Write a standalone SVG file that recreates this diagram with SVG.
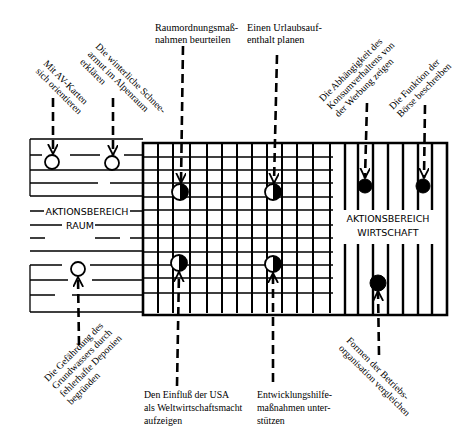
<svg xmlns="http://www.w3.org/2000/svg" width="465" height="429" viewBox="0 0 465 429">
<defs>
<style>
.bg{fill:#fff}
.hl{stroke:#000;stroke-width:1.3;fill:none}
.vl{stroke:#000;stroke-width:2;fill:none}
.vr{stroke:#000;stroke-width:2.4;fill:none}
.fr{stroke:#000;stroke-width:2.6;fill:none}
.dash{stroke:#000;stroke-width:2.6;stroke-dasharray:9 5;fill:none}
.lbl{font-family:"Liberation Serif","Times New Roman",serif;font-size:9.8px;fill:#000}
.top{font-size:10.2px}
.area{font-family:"DejaVu Sans","Liberation Sans",sans-serif;font-size:9.5px;fill:#000;text-anchor:middle}
.open{fill:#fff;stroke:#000;stroke-width:1.8}
.half{fill:#000}
.full{fill:#000;stroke:#000;stroke-width:1}
</style>
<marker id="ah" markerUnits="userSpaceOnUse" markerWidth="14" markerHeight="14" refX="10" refY="5" orient="auto">
<path d="M0,0 L10,5 L0,10" fill="none" stroke="#000" stroke-width="1.8"/>
</marker>
</defs>
<rect class="bg" x="0" y="0" width="465" height="429"/>

<g id="region-raum">
<path class="hl" d="M30,139 H143 M30,139 V196 M30,265 V312
M30,155 H42 M70,155 H100 M124,155 H143
M30,170 H143
M30,183 H98 M110,183 H143
M30,196 H143
M30,211 H44 M130,211 H143
M30,225 H62 M95,225 H143
M30,238 H45 M95,238 H120 M130,238 H143
M30,251 H143
M30,265 H62 M90,265 H143
M30,280 H68 M92,280 H143
M30,295 H55 M72,295 H143
M30,312 H143"/>
<text class="area" x="87" y="215">AKTIONSBEREICH</text>
<text class="area" x="80" y="229">RAUM</text>
</g>

<g id="region-grid">
<path class="hl" d="M143,157 H333 M143,170 H333 M143,183 H333 M143,197 H333 M143,210 H333 M143,225 H333 M143,238 H333 M143,252 H333 M143,265 H333 M143,278 H333 M143,293 H333"/>
<path class="vl" d="M158,143 V313 M173,143 V313 M190,143 V313 M207,143 V313 M222,143 V313 M237,143 V313 M252,143 V313 M267,143 V313 M282,143 V313 M297,143 V313 M313,143 V313 M330,143 V313"/>
</g>

<g id="region-wirtschaft">
<path class="vr" d="M345,143 V210 M345,244 V314 M358,143 V210 M358,244 V314 M373,143 V210 M373,244 V314 M388,143 V210 M388,244 V314 M403,143 V210 M403,244 V314 M418,143 V210 M418,244 V314 M432,143 V210 M432,244 V314"/>
<text class="area" x="388" y="222">AKTIONSBEREICH</text>
<text class="area" x="388" y="236">WIRTSCHAFT</text>
</g>

<g id="frame">
<path class="fr" d="M143,143 H447 V315 H143 Z"/>
</g>

<g id="connectors">
<path class="dash" d="M53,98 V154" marker-end="url(#ah)"/>
<path class="dash" d="M113,98 V155" marker-end="url(#ah)"/>
<path class="dash" d="M183,46 L181,183" marker-end="url(#ah)"/>
<path class="dash" d="M277,55 L274,183" marker-end="url(#ah)"/>
<path class="dash" d="M367,103 L365,178" marker-end="url(#ah)"/>
<path class="dash" d="M425,105 L424,178" marker-end="url(#ah)"/>
<path class="dash" d="M79,345 L78,277" marker-end="url(#ah)"/>
<path class="dash" d="M177,386 L179,272" marker-end="url(#ah)"/>
<path class="dash" d="M273,382 V273" marker-end="url(#ah)"/>
<path class="dash" d="M379,355 L378,291" marker-end="url(#ah)"/>
</g>

<g id="node-av-karten">
<circle class="open" cx="52" cy="162" r="7"/>
<text class="lbl" transform="translate(43,64) rotate(45)"><tspan x="0" y="0">Mit AV-Karten</tspan><tspan x="0" dy="11">sich orientieren</tspan></text>
</g>

<g id="node-schneearmut">
<circle class="open" cx="112" cy="163" r="7"/>
<text class="lbl" transform="translate(95,47) rotate(45)"><tspan x="0" y="0">Die winterliche Schnee-</tspan><tspan x="0" dy="11">armut im Alpenraum</tspan><tspan x="0" dy="11">erklären</tspan></text>
</g>

<g id="node-raumordnung">
<circle class="open" cx="180" cy="192" r="8"/>
<path class="half" d="M180,184 A8,8 0 0 1 180,200 Z"/>
<text class="lbl top" x="155" y="31">Raumordnungsmaß-</text>
<text class="lbl top" x="155" y="43">nahmen beurteilen</text>
</g>

<g id="node-urlaub">
<circle class="open" cx="273" cy="192" r="8"/>
<path class="half" d="M273,184 A8,8 0 0 1 273,200 Z"/>
<text class="lbl top" x="247" y="31">Einen Urlaubsauf-</text>
<text class="lbl top" x="247" y="43">enthalt planen</text>
</g>

<g id="node-konsum">
<circle class="full" cx="365" cy="186" r="7"/>
<text class="lbl" transform="translate(323,102) rotate(-45)"><tspan x="0" y="0">Die Abhängigkeit des</tspan><tspan x="0" dy="11">Konsumverhaltens von</tspan><tspan x="0" dy="11">der Werbung zeigen</tspan></text>
</g>

<g id="node-boerse">
<circle class="full" cx="423" cy="186" r="7"/>
<text class="lbl" transform="translate(393,110) rotate(-45)"><tspan x="0" y="0">Die Funktion der</tspan><tspan x="0" dy="11">Börse beschreiben</tspan></text>
</g>

<g id="node-grundwasser">
<circle class="open" cx="78" cy="269" r="7"/>
<text class="lbl" transform="translate(48,382) rotate(-45)"><tspan x="0" y="0">Die Gefährdung des</tspan><tspan x="0" dy="11">Grundwassers durch</tspan><tspan x="0" dy="11">fehlerhafte Deponien</tspan><tspan x="0" dy="11">begründen</tspan></text>
</g>

<g id="node-usa">
<circle class="open" cx="179" cy="263" r="8"/>
<path class="half" d="M179,255 A8,8 0 0 1 179,271 Z"/>
<text class="lbl" x="144" y="398">Den Einfluß der USA</text>
<text class="lbl" x="144" y="411">als Weltwirtschaftsmacht</text>
<text class="lbl" x="144" y="424">aufzeigen</text>
</g>

<g id="node-entwicklungshilfe">
<circle class="open" cx="273" cy="264" r="8"/>
<path class="half" d="M273,256 A8,8 0 0 1 273,272 Z"/>
<text class="lbl" x="257" y="398">Entwicklungshilfe-</text>
<text class="lbl" x="257" y="411">maßnahmen unter-</text>
<text class="lbl" x="257" y="424">stützen</text>
</g>

<g id="node-betriebsorganisation">
<circle class="full" cx="378" cy="283" r="8"/>
<text class="lbl" transform="translate(346,341) rotate(45)"><tspan x="0" y="0">Formen der Betriebs-</tspan><tspan x="0" dy="11">organisation vergleichen</tspan></text>
</g>
</svg>
